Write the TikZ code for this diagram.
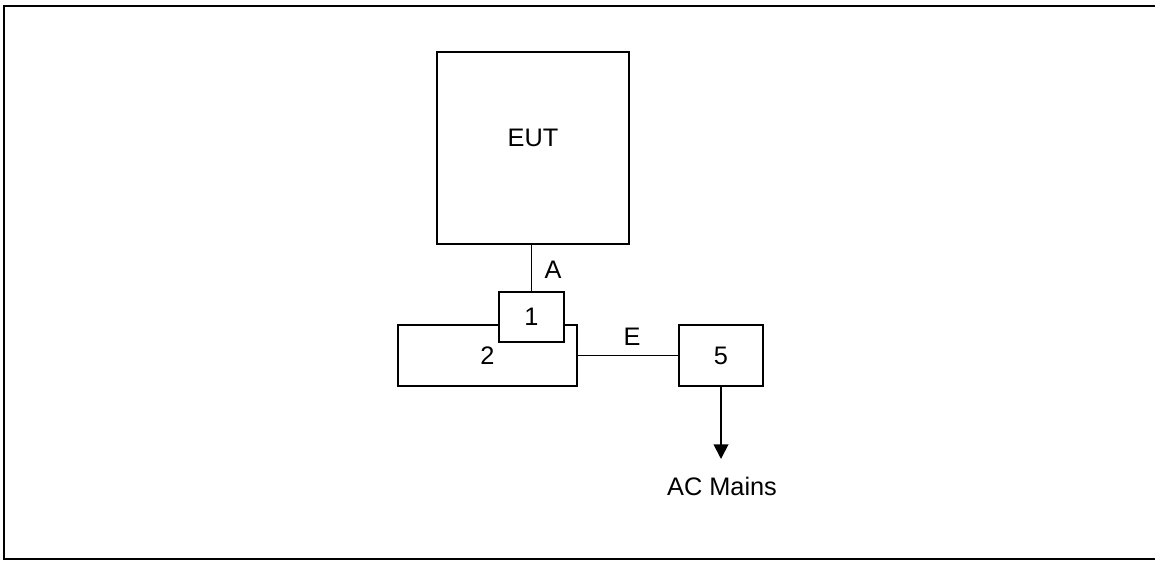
\documentclass[tikz,border=0pt]{standalone}
\usepackage{fontspec}
\setmainfont{Liberation Sans}
\usetikzlibrary{arrows.meta}
\begin{document}
\begin{tikzpicture}[x=0.75pt,y=-0.75pt,
  box/.style={draw, line width=1.4pt, inner sep=0pt, outer sep=0pt, fill=white, font=\fontsize{19}{22}\selectfont},
  lbl/.style={inner sep=0pt, font=\fontsize{19}{22}\selectfont},
  wire/.style={line width=1.4pt}]
\useasboundingbox (0,0) rectangle (1155,560);
\begin{scope}
\clip (0,0) rectangle (1155,560);
\draw[line width=1.5pt] (4,6) rectangle (1165,559);
\end{scope}
\node[box, minimum width=144pt, minimum height=144pt] (eut) at (533,148) {};
\node[lbl] (eutlbl) at (533,138) {EUT};
\node[box, minimum width=134.25pt, minimum height=45.75pt] (b2) at (487.5,355.5) {2};
\node[box, minimum width=48.75pt, minimum height=37.5pt] (b1) at (531.5,317) {1};
\node[box, minimum width=63pt, minimum height=45.75pt] (b5) at (721,355.5) {5};
\draw[wire] (b1.north) -- (b1.north |- eut.south);
\node[lbl] (la) at (553,270) {A};
\draw[wire] (b2.east) -- (b5.west);
\node[lbl] (le) at (632,337) {E};
\coordinate (tip) at (721,459);
\draw[wire, -{Triangle[length=11pt,width=11pt]}] (b5.south) -- (tip);
\node[lbl] (ac) at (722,486) {AC Mains};
\end{tikzpicture}
\end{document}
